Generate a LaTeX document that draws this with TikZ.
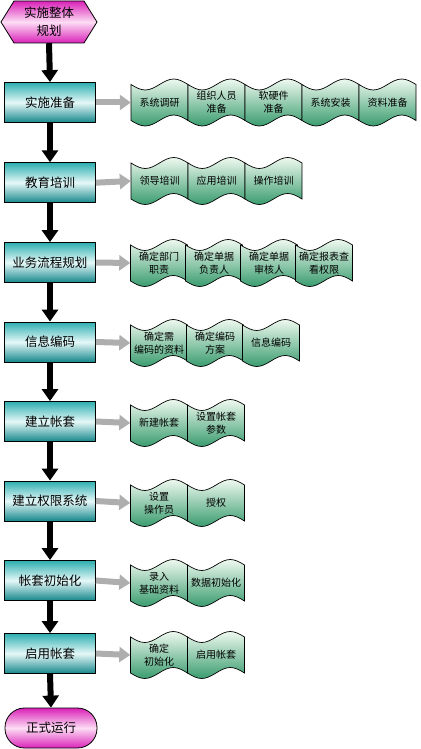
\documentclass[tikz,border=0pt]{standalone}
\usepackage{fontspec}
\setmainfont{Noto Sans CJK SC}
\usetikzlibrary{arrows.meta,positioning}
\definecolor{PLMagenta}{HTML}{DA22B8}
\definecolor{PLPink}{HTML}{FCDDF4}
\definecolor{PLTeal}{HTML}{2EAEB0}
\definecolor{PLTealLight}{HTML}{E6F8F8}
\definecolor{PLTealDark}{HTML}{15878B}
\definecolor{PLLeaf}{HTML}{EEF9EF}
\definecolor{PLLeafDark}{HTML}{3A9C6F}
\definecolor{PLGray}{HTML}{AEAEAE}
\tikzset{
  flow/.style={-{Triangle[length=12pt,width=16pt]},black,line width=6pt},
  flowgray/.style={-{Triangle[length=11pt,width=15pt]},PLGray,line width=6pt},
  stepbox/.style={draw=black,line width=0.8pt,top color=PLTeal,bottom color=PLTealDark,
                  middle color=PLTealLight,minimum width=91pt,minimum height=40pt,
                  inner sep=0pt,text=black,font=\fontsize{12.5}{14}\selectfont},
  endcap/.style={draw=black,line width=0.8pt,top color=PLMagenta,bottom color=PLMagenta,
                 middle color=PLPink,rounded corners=19.5pt,minimum width=92pt,
                 minimum height=40pt,inner sep=0pt,font=\fontsize{12.5}{14}\selectfont},
  startbody/.style={draw=black,line width=0.8pt,top color=PLMagenta,bottom color=PLMagenta,
                    middle color=PLPink},
  starttext/.style={minimum width=96pt,minimum height=42pt,inner sep=0pt,align=center,
                    font=\fontsize{12.5}{18}\selectfont},
  tapebody/.style={draw=black,line width=0.7pt,top color=PLLeaf,bottom color=PLLeafDark},
  tapetext/.style={minimum width=57pt,minimum height=37pt,inner sep=0pt,align=center,
                   font=\fontsize{10}{13}\selectfont},
}
% wavy tape card: name, x, y, text
\newcommand{\tapecard}[4]{%
  \begin{scope}[shift={(#2,#3)}]
    \path[tapebody]
      (-28.5,18) sin (-14.25,12.5) cos (0,18) sin (14.25,23.5) cos (28.5,18)
      -- (28.5,-18) sin (14.25,-12.5) cos (0,-18) sin (-14.25,-23.5) cos (-28.5,-18)
      -- cycle;
  \end{scope}%
  \node[tapetext] (#1) at (#2,#3) {#4};%
}

\begin{document}
\begin{tikzpicture}[x=1pt,y=1pt]
    \useasboundingbox (0,0) rectangle (420,-749);

    % ------------------------------------------------------------ start
    \path[startbody] (1,-22) -- (14,-1) -- (84,-1) -- (97,-22) -- (84,-43) -- (14,-43) -- cycle;
    \node[starttext] (plan) at (49,-22) {实施整体\\规划};

    % ------------------------------------------------------------ main steps
    \node[stepbox] (prep)    at (50,-102.5) {实施准备};
    \node[stepbox] (train)   at (50,-182.7) {教育培训};
    \node[stepbox] (process) at (50,-262.5) {业务流程规划};
    \node[stepbox] (coding)  at (50,-342)   {信息编码};
    \node[stepbox] (ledger)  at (50,-421.5) {建立帐套};
    \node[stepbox] (rights)  at (50,-501)   {建立权限系统};
    \node[stepbox] (init)    at (50,-580.5) {帐套初始化};
    \node[stepbox] (launch)  at (50,-653.5) {启用帐套};
    \node[endcap]  (run)     at (51,-728)   {正式运行};

    \draw[flow] (plan.south)    -- (prep.north);
    \draw[flow] (prep.south)    -- (train.north);
    \draw[flow] (train.south)   -- (process.north);
    \draw[flow] (process.south) -- (coding.north);
    \draw[flow] (coding.south)  -- (ledger.north);
    \draw[flow] (ledger.south)  -- (rights.north);
    \draw[flow] (rights.south)  -- (init.north);
    \draw[flow] (init.south)    -- (launch.north);
    \draw[flow] (launch.south)  -- (run.north);

    % ------------------------------------------------------------ detail tapes
    \tapecard{prep1}{159.5}{-102.5}{系统调研}
    \tapecard{prep2}{216.5}{-102.5}{组织人员\\准备}
    \tapecard{prep3}{273.5}{-102.5}{软硬件\\准备}
    \tapecard{prep4}{330.5}{-102.5}{系统安装}
    \tapecard{prep5}{387.5}{-102.5}{资料准备}

    \tapecard{train1}{159.5}{-181}{领导培训}
    \tapecard{train2}{216.5}{-181}{应用培训}
    \tapecard{train3}{273.5}{-181}{操作培训}

    \tapecard{process1}{159}{-263}{确定部门\\职责}
    \tapecard{process2}{214}{-263}{确定单据\\负责人}
    \tapecard{process3}{269}{-263}{确定单据\\审核人}
    \tapecard{process4}{324}{-263}{确定报表查\\看权限}

    \tapecard{coding1}{159}{-343}{确定需\\编码的资料}
    \tapecard{coding2}{215}{-343}{确定编码\\方案}
    \tapecard{coding3}{271}{-343}{信息编码}

    \tapecard{ledger1}{159}{-423}{新建帐套}
    \tapecard{ledger2}{216}{-423}{设置帐套\\参数}

    \tapecard{rights1}{159}{-503}{设置\\操作员}
    \tapecard{rights2}{216}{-503}{授权}

    \tapecard{init1}{159}{-583}{录入\\基础资料}
    \tapecard{init2}{216}{-583}{数据初始化}

    \tapecard{launch1}{159}{-655}{确定\\初始化}
    \tapecard{launch2}{216}{-655}{启用帐套}

    \draw[flowgray] (prep.east)    -- (prep1.west);
    \draw[flowgray] (train.east)   -- (train1.west);
    \draw[flowgray] (process.east) -- (process1.west);
    \draw[flowgray] (coding.east)  -- (coding1.west);
    \draw[flowgray] (ledger.east)  -- (ledger1.west);
    \draw[flowgray] (rights.east)  -- (rights1.west);
    \draw[flowgray] (init.east)    -- (init1.west);
    \draw[flowgray] (launch.east)  -- (launch1.west);
\end{tikzpicture}
\end{document}
